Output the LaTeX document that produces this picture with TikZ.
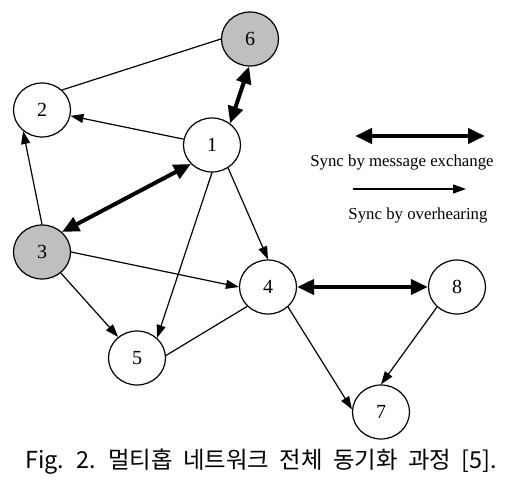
\documentclass[tikz,border=0pt]{standalone}
\usepackage{fontspec}
\setmainfont{Liberation Serif}
\newfontfamily\krfont{Noto Sans CJK KR}
\usetikzlibrary{arrows.meta,shapes.geometric}
\tikzset{
  nd/.style={ellipse,draw,line width=1.2pt,minimum width=57pt,minimum height=54pt,inner sep=0pt,font=\fontsize{20}{20}\selectfont},
  gnd/.style={nd,fill=gray!50},
  thin/.style={line width=1.2pt,-{Triangle[length=13pt,width=9pt]}},
  plain/.style={line width=1.2pt},
  thick/.style={line width=4pt,{Triangle[length=17pt,width=15pt]}-{Triangle[length=17pt,width=15pt]}},
  lg/.style={font=\fontsize{16.8}{17}\selectfont,inner sep=0pt,anchor=base}
}
\begin{document}
\begin{tikzpicture}[x=1pt,y=-1pt]
\useasboundingbox (0,0) rectangle (514,489);
\node[gnd] (n6) at (250,39) {6};
\node[nd] (n2) at (42,110) {2};
\node[nd] (n1) at (212,145) {1};
\node[gnd] (n3) at (42,252) {3};
\node[nd] (n4) at (268,287) {4};
\node[nd] (n8) at (457,287) {8};
\node[nd] (n5) at (137,358) {5};
\node[nd] (n7) at (381,412) {7};
\draw[plain] (n6.west) -- (n2.45);
\draw[thick] (n6.-92) -- (n1.50);
\draw[thin] (n1) -- (n2);
\draw[thin] (n3.north) -- (n2.228);
\draw[thick] (n1.222) -- (n3.45);
\draw[thin] (n1.south) -- (n5.45);
\draw[thin] (n1.-55) -- (n4.north);
\draw[thin] (n3.east) -- (n4.west);
\draw[thin] (n3) -- (n5);
\draw[plain] (n4.223) -- (n5.5);
\draw[thick] (n4.east) -- (n8.west);
\draw[thin] (n4.-45) -- (n7.175);
\draw[thin] (n8.225) -- (n7.north);
\coordinate (la1) at (355,136);
\coordinate (la2) at (485,136);
\coordinate (lb1) at (353,189);
\coordinate (lb2) at (466,189);
\draw[thick] (la1) -- (la2);
\draw[thin] (lb1) -- (lb2);
\node[lg] (t1) at (402,167) {Sync by message exchange};
\node[lg] (t2) at (418,220) {Sync by overhearing};
\node[inner sep=0pt,anchor=base west] (cap) at (25,468) {\resizebox{472pt}{!}{\fontsize{20}{21}\krfont\spaceskip=9pt Fig. 2. 멀티홉 네트워크 전체 동기화 과정 [5].}};
\end{tikzpicture}
\end{document}
